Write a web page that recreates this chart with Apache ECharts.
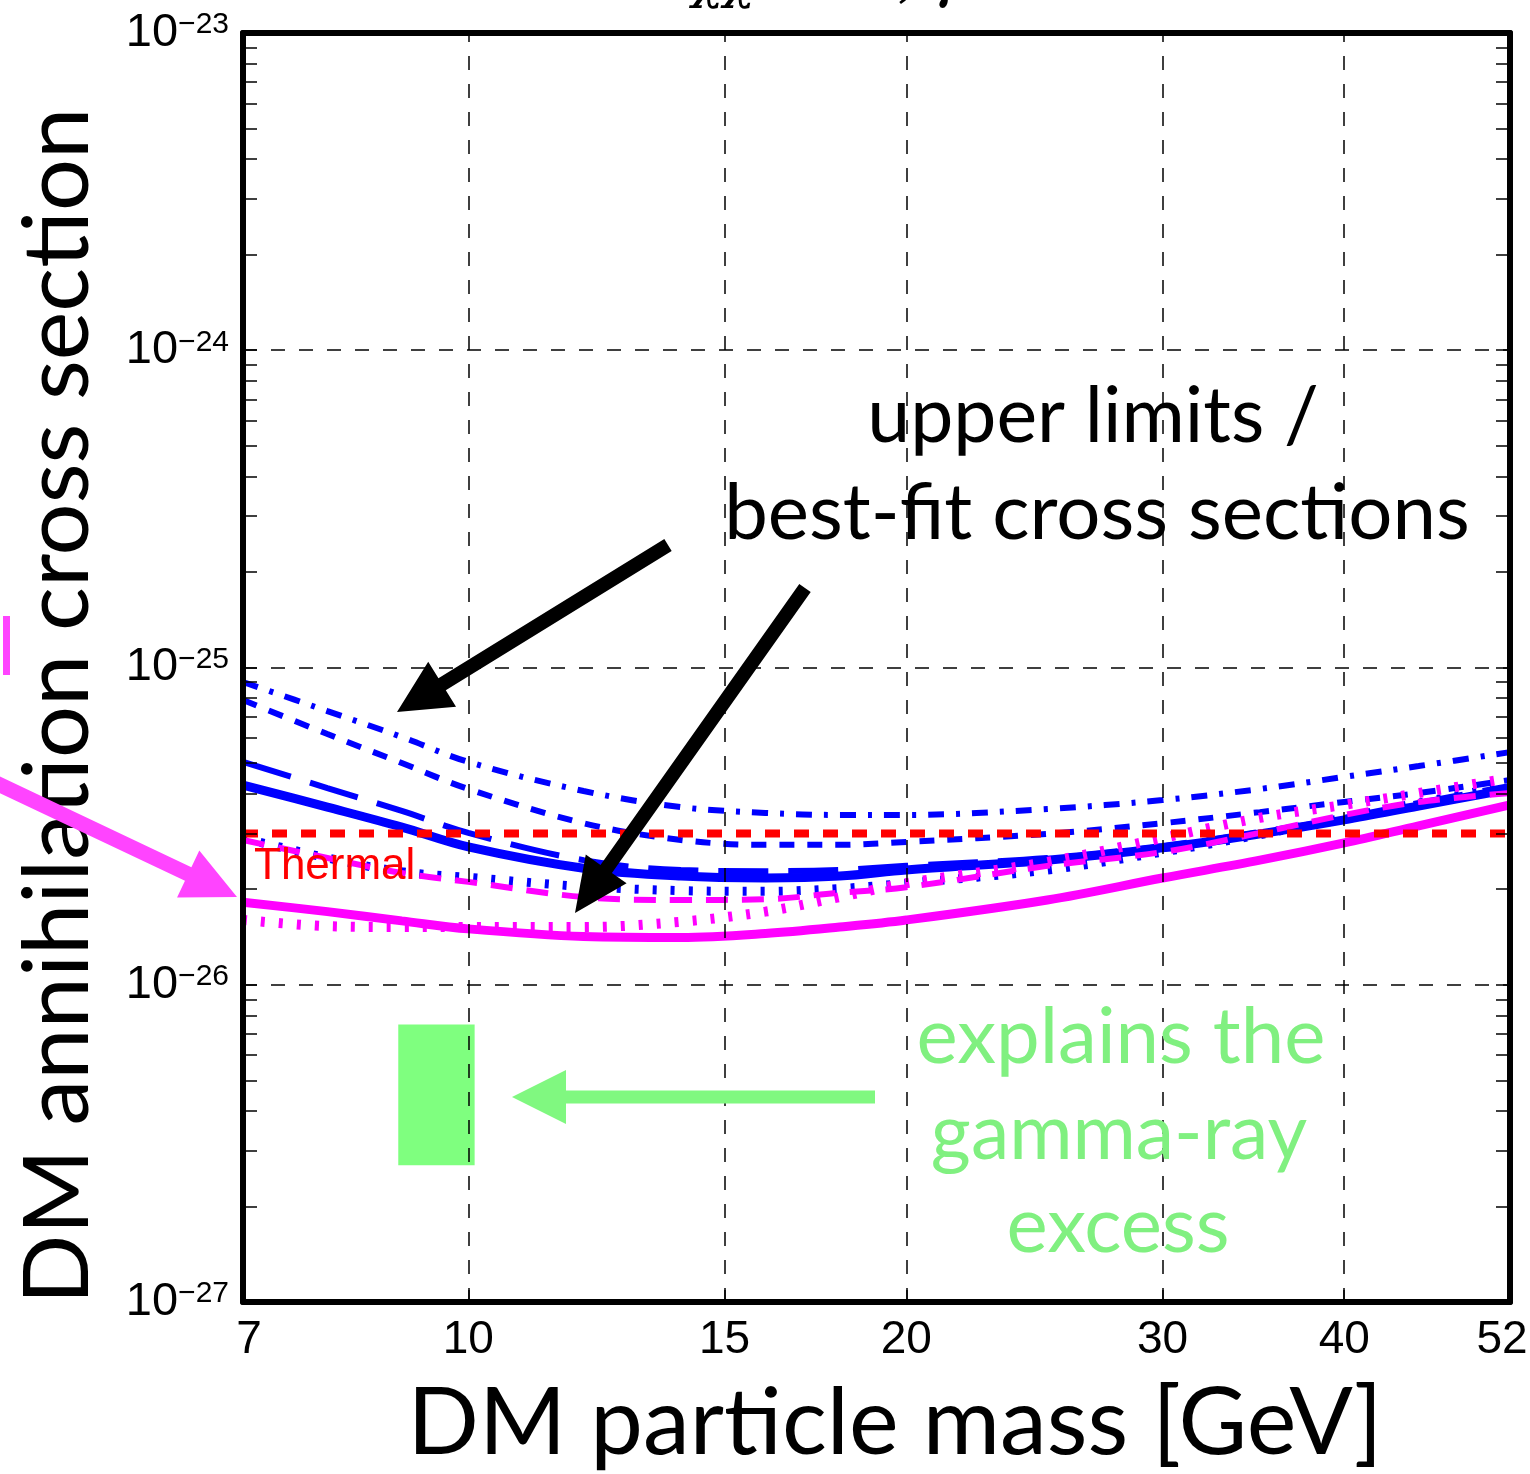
<!DOCTYPE html>
<html>
<head>
<meta charset="utf-8">
<script src="https://cdn.jsdelivr.net/npm/echarts@6/dist/echarts.min.js"></script>
<style>
  html, body { margin: 0; padding: 0; background: #ffffff; overflow: hidden; }
  #chart { width: 1530px; height: 1474px; }
</style>
</head>
<body>
<div id="chart"></div>
<script>
// DM mass samples (GeV)
const mass = [7, 8, 9, 10, 12, 14, 16, 18, 20, 25, 30, 35, 40, 45, 52];

// Annihilation cross sections, in units of 1e-26 cm^3/s
const blueSolid   = [4.26, 3.63, 3.14, 2.72, 2.33, 2.20, 2.17, 2.20, 2.30, 2.47, 2.70, 2.99, 3.31, 3.66, 4.14];
const blueLong    = [5.04, 4.17, 3.53, 3.01, 2.47, 2.30, 2.28, 2.30, 2.37, 2.51, 2.74, 3.03, 3.36, 3.74, 4.23];
const blueShort   = [7.90, 6.17, 5.00, 4.14, 3.23, 2.86, 2.76, 2.76, 2.82, 2.99, 3.23, 3.50, 3.77, 4.02, 4.42];
const blueDashDot = [9.00, 7.29, 6.04, 5.04, 4.08, 3.63, 3.48, 3.43, 3.43, 3.58, 3.82, 4.14, 4.52, 4.89, 5.41];
const blueDotted  = [2.90, 2.51, 2.27, 2.18, 2.04, 1.98, 1.97, 2.01, 2.09, 2.30, 2.62, 2.97, 3.36, 3.74, 4.26];
const pinkSolid   = [1.82, 1.70, 1.59, 1.50, 1.42, 1.41, 1.45, 1.52, 1.60, 1.85, 2.17, 2.47, 2.80, 3.17, 3.69];
const pinkDotted  = [1.60, 1.53, 1.52, 1.52, 1.52, 1.58, 1.70, 1.89, 2.09, 2.44, 2.90, 3.36, 3.69, 4.02, 4.48];
const pinkDashed  = [2.86, 2.51, 2.25, 2.11, 1.89, 1.85, 1.86, 1.95, 2.03, 2.37, 2.62, 3.01, 3.43, 3.77, 4.02];
const thermal = 3.0;

// Mass window / cross-section range that explains the gamma-ray excess
const excessMass  = [8.95, 10.1];
const excessSigma = [0.27, 0.75];

// Axis ticks and labels
const xTicks  = [10, 15, 20, 30, 40];
const xLabels = [7, 10, 15, 20, 30, 40, 52];
const yDecades = [0.1, 1, 10, 100, 1000];
const yGrid = [1, 10, 100];

const BLUE = '#0000ff';
const PINK = '#ff00ff';

const yMinor = [];
[0.1, 1, 10, 100].forEach(d => { for (let k = 1; k <= 9; k++) yMinor.push(+(k * d).toPrecision(3)); });
yMinor.push(1000);

function pairs(ys) { return mass.map((m, i) => [m, ys[i]]); }

function curve(name, ys, color, width, dash, z) {
  return {
    name, type: 'line', data: pairs(ys), smooth: 0.35, showSymbol: false, symbol: 'none',
    z: z || 3, silent: true, clip: true,
    lineStyle: { color, width, type: dash || 'solid', cap: 'butt' }
  };
}

// Arrow outline from tail to tip
function arrow(tail, tip, shaft, headLen, headW) {
  const dx = tip[0] - tail[0], dy = tip[1] - tail[1];
  const len = Math.hypot(dx, dy);
  const ux = dx / len, uy = dy / len, px = -uy, py = ux;
  const bx = tip[0] - ux * headLen, by = tip[1] - uy * headLen;
  const s = shaft / 2, h = headW / 2;
  return [
    [tail[0] + px * s, tail[1] + py * s], [bx + px * s, by + py * s], [bx + px * h, by + py * h],
    tip,
    [bx - px * h, by - py * h], [bx - px * s, by - py * s], [tail[0] - px * s, tail[1] - py * s]
  ];
}

const numFont = "'Liberation Sans Narrow', 'Liberation Sans', Arial, sans-serif";
const bigFont = "Lato, 'Open Sans', sans-serif";

const gridLine = { color: '#000', width: 1.5, type: [14, 14] };

// edge labels are nudged inward so they stay on the canvas
function xLabel(v) {
  const t = String(Math.round(v));
  if (v === xLabels[0]) return '{first|' + t + '}';
  if (v === xLabels[xLabels.length - 1]) return '{last|' + t + '}';
  return '{n|' + t + '}';
}
const xLabelText = { fontSize: 46, fontFamily: numFont, color: '#000' };

const chart = echarts.init(document.getElementById('chart'), null, { renderer: 'canvas' });

const option = {
  backgroundColor: '#ffffff',
  animation: false,
  grid: { left: 243, top: 33, width: 1267, height: 1269, containLabel: false, outerBoundsMode: 'none' },
  xAxis: [
    {
      type: 'log', logBase: 10, min: 7, max: 52, position: 'bottom', z: 6,
      axisLine: { show: true, onZero: false, lineStyle: { color: '#000', width: 6 } },
      axisTick: { show: true, inside: true, length: 12, customValues: xTicks, lineStyle: { color: '#000', width: 1.5 } },
      axisLabel: {
        show: true, customValues: xLabels, margin: 15, hideOverlap: false, formatter: xLabel,
        rich: {
          n: xLabelText,
          first: Object.assign({ padding: [0, 0, 0, 12] }, xLabelText),
          last: Object.assign({ padding: [0, 16, 0, 0] }, xLabelText)
        }
      },
      splitLine: { show: false }, minorTick: { show: false }
    },
    {
      type: 'log', logBase: 10, min: 7, max: 52, position: 'top', z: 6,
      axisLine: { show: true, onZero: false, lineStyle: { color: '#000', width: 6 } },
      axisTick: { show: false }, axisLabel: { show: false }, splitLine: { show: false }
    }
  ],
  yAxis: [
    {
      type: 'log', logBase: 10, min: 0.1, max: 1000, position: 'left', z: 6,
      axisLine: { show: true, onZero: false, lineStyle: { color: '#000', width: 6 } },
      axisTick: { show: true, inside: true, length: 14, customValues: yMinor, lineStyle: { color: '#000', width: 1.5 } },
      axisLabel: {
        show: true, customValues: yDecades, margin: 14, hideOverlap: false,
        formatter: v => '{b|10}{s|\u2212' + (26 - Math.round(Math.log10(v))) + '}',
        rich: {
          b: { fontSize: 47, lineHeight: 46, fontFamily: numFont, color: '#000' },
          s: { fontSize: 30, lineHeight: 20, fontFamily: numFont, color: '#000', verticalAlign: 'top' }
        }
      },
      splitLine: { show: false }
    },
    {
      type: 'log', logBase: 10, min: 0.1, max: 1000, position: 'right', z: 6,
      axisLine: { show: true, onZero: false, lineStyle: { color: '#000', width: 6 } },
      axisTick: { show: true, inside: true, length: 14, customValues: yMinor, lineStyle: { color: '#000', width: 1.5 } },
      axisLabel: { show: false }, splitLine: { show: false }
    }
  ],
  series: [
    {
      // dashed reference grid
      name: 'grid', type: 'line', data: [], z: 1, silent: true,
      markLine: {
        silent: true, symbol: ['none', 'none'], label: { show: false }, animation: false,
        lineStyle: gridLine,
        data: xTicks.map(v => ({ xAxis: v })).concat(yGrid.map(v => ({ yAxis: v })))
      }
    },
    {
      // gamma-ray excess region
      name: 'excess', type: 'line', data: [], z: 2, silent: true,
      markArea: {
        silent: true, itemStyle: { color: 'rgba(0,255,0,0.5)', borderWidth: 0 }, label: { show: false },
        data: [[{ xAxis: excessMass[0], yAxis: excessSigma[0] }, { xAxis: excessMass[1], yAxis: excessSigma[1] }]]
      }
    },
    curve('blue dash-dot', blueDashDot, BLUE, 6, [16, 12, 4, 12]),
    curve('blue short dash', blueShort, BLUE, 6, [15, 13]),
    curve('blue dotted', blueDotted, BLUE, 9, [4, 14]),
    curve('blue long dash', blueLong, BLUE, 6, [50, 20]),
    curve('blue solid', blueSolid, BLUE, 9, 'solid'),
    curve('magenta dashed', pinkDashed, PINK, 6, [22, 14], 4),
    curve('magenta dotted', pinkDotted, PINK, 10, [4, 14], 4),
    curve('magenta solid', pinkSolid, PINK, 9, 'solid', 4),
    {
      name: 'Thermal', type: 'line', data: [[7, thermal], [52, thermal]], z: 5, silent: true,
      showSymbol: false, symbol: 'none',
      lineStyle: { color: '#ff0000', width: 8, type: [15, 14], cap: 'butt' }
    }
  ],
  graphic: [
    { type: 'text', left: 692, top: -43, silent: true,
      style: { text: '\u03c7\u03c7 \u2192 bb\u0304, \u03b3', font: "italic 52px 'DejaVu Serif', serif", fill: '#000' } },
    { type: 'text', x: 58, y: 706, rotation: Math.PI / 2, silent: true,
      style: { text: 'DM annihilation cross section', font: "92px " + bigFont, fill: '#000', align: 'center', verticalAlign: 'middle' } },
    { type: 'text', x: 895, y: 1424, silent: true,
      style: { text: 'DM particle mass [GeV]', font: "94px " + bigFont, fill: '#000', align: 'center', verticalAlign: 'middle' } },
    { type: 'text', x: 1093, y: 417, silent: true, z: 20,
      style: { text: 'upper limits /', font: "77px " + bigFont, fill: '#000', align: 'center', verticalAlign: 'middle' } },
    { type: 'text', x: 1097, y: 514, silent: true, z: 20,
      style: { text: 'best-fit cross sections', font: "78px " + bigFont, fill: '#000', align: 'center', verticalAlign: 'middle' } },
    { type: 'text', x: 1121, y: 1038, silent: true, z: 20,
      style: { text: 'explains the', font: "78px " + bigFont, fill: '#80f080', align: 'center', verticalAlign: 'middle' } },
    { type: 'text', x: 1119, y: 1134, silent: true, z: 20,
      style: { text: 'gamma-ray', font: "77px " + bigFont, fill: '#80f080', align: 'center', verticalAlign: 'middle' } },
    { type: 'text', x: 1118, y: 1227, silent: true, z: 20,
      style: { text: 'excess', font: "78px " + bigFont, fill: '#80f080', align: 'center', verticalAlign: 'middle' } },
    { type: 'text', x: 254, y: 867, silent: true, z: 20,
      style: { text: 'Thermal', font: "44px 'Liberation Sans', Arial, sans-serif", fill: '#ff0000', align: 'left', verticalAlign: 'middle' } },
    { type: 'polygon', silent: true, z: 20, shape: { points: arrow([668, 545], [397, 712], 14, 53, 53) }, style: { fill: '#000' } },
    { type: 'polygon', silent: true, z: 20, shape: { points: arrow([805, 588], [575, 913], 14, 54, 50) }, style: { fill: '#000' } },
    { type: 'polygon', silent: true, z: 20, shape: { points: arrow([-40, 766], [237, 897], 15, 54, 52) }, style: { fill: '#ff44ff' } },
    { type: 'polygon', silent: true, z: 20, shape: { points: arrow([875, 1097], [512, 1097], 13, 54, 54) }, style: { fill: '#80f880' } },
    { type: 'rect', silent: true, z: 20, shape: { x: 3, y: 616, width: 7, height: 59 }, style: { fill: '#ff44ff' } }
  ]
};

chart.setOption(option);
</script>
</body>
</html>
